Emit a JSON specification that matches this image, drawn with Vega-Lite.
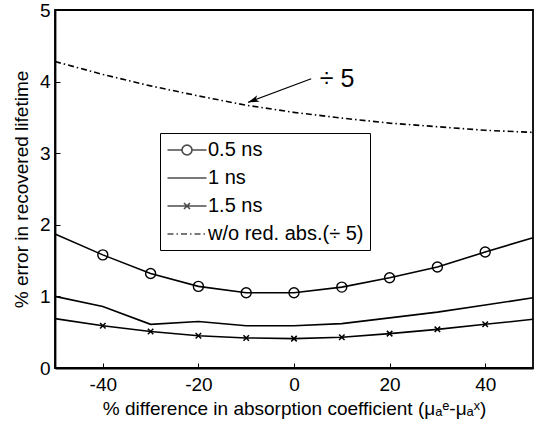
{
  "$schema": "https://vega.github.io/schema/vega-lite/v6.json",
  "width": 478,
  "height": 358,
  "autosize": {"type": "none"},
  "padding": {"left": 55, "top": 10, "right": 6, "bottom": 62},
  "background": "white",
  "config": {
    "font": "Liberation Sans",
    "view": {"stroke": "black", "strokeWidth": 1.8},
    "axis": {
      "domainColor": "black", "domainWidth": 1.8,
      "tickColor": "black", "tickWidth": 1, "tickSize": -5,
      "labelColor": "black", "titleColor": "black",
      "labelFontSize": 19, "titleFontSize": 19, "titleFontWeight": "normal",
      "grid": false
    }
  },
  "datasets": {
    "curves": [
      {"series": "0.5 ns", "x": -50, "err": 1.87},
      {"series": "0.5 ns", "x": -40, "err": 1.58},
      {"series": "0.5 ns", "x": -30, "err": 1.32},
      {"series": "0.5 ns", "x": -20, "err": 1.14},
      {"series": "0.5 ns", "x": -10, "err": 1.05},
      {"series": "0.5 ns", "x": 0, "err": 1.05},
      {"series": "0.5 ns", "x": 10, "err": 1.13},
      {"series": "0.5 ns", "x": 20, "err": 1.26},
      {"series": "0.5 ns", "x": 30, "err": 1.41},
      {"series": "0.5 ns", "x": 40, "err": 1.62},
      {"series": "0.5 ns", "x": 50, "err": 1.82},
      {"series": "1 ns", "x": -50, "err": 1.0},
      {"series": "1 ns", "x": -40, "err": 0.86},
      {"series": "1 ns", "x": -30, "err": 0.61},
      {"series": "1 ns", "x": -20, "err": 0.65},
      {"series": "1 ns", "x": -10, "err": 0.59},
      {"series": "1 ns", "x": 0, "err": 0.59},
      {"series": "1 ns", "x": 10, "err": 0.62},
      {"series": "1 ns", "x": 20, "err": 0.70},
      {"series": "1 ns", "x": 30, "err": 0.78},
      {"series": "1 ns", "x": 40, "err": 0.88},
      {"series": "1 ns", "x": 50, "err": 0.98},
      {"series": "1.5 ns", "x": -50, "err": 0.69},
      {"series": "1.5 ns", "x": -40, "err": 0.59},
      {"series": "1.5 ns", "x": -30, "err": 0.51},
      {"series": "1.5 ns", "x": -20, "err": 0.45},
      {"series": "1.5 ns", "x": -10, "err": 0.42},
      {"series": "1.5 ns", "x": 0, "err": 0.41},
      {"series": "1.5 ns", "x": 10, "err": 0.43},
      {"series": "1.5 ns", "x": 20, "err": 0.48},
      {"series": "1.5 ns", "x": 30, "err": 0.54},
      {"series": "1.5 ns", "x": 40, "err": 0.61},
      {"series": "1.5 ns", "x": 50, "err": 0.68},
      {"series": "w/o red. abs.(÷ 5)", "x": -50, "err": 4.28},
      {"series": "w/o red. abs.(÷ 5)", "x": -40, "err": 4.10},
      {"series": "w/o red. abs.(÷ 5)", "x": -30, "err": 3.94},
      {"series": "w/o red. abs.(÷ 5)", "x": -20, "err": 3.80},
      {"series": "w/o red. abs.(÷ 5)", "x": -10, "err": 3.67},
      {"series": "w/o red. abs.(÷ 5)", "x": 0, "err": 3.57},
      {"series": "w/o red. abs.(÷ 5)", "x": 10, "err": 3.49},
      {"series": "w/o red. abs.(÷ 5)", "x": 20, "err": 3.42},
      {"series": "w/o red. abs.(÷ 5)", "x": 30, "err": 3.37},
      {"series": "w/o red. abs.(÷ 5)", "x": 40, "err": 3.32},
      {"series": "w/o red. abs.(÷ 5)", "x": 50, "err": 3.29}
    ],
    "note": [
      {"label": "÷ 5", "x": 3.6, "err": 4.04, "x_end": -9.6, "err_end": 3.71, "x_text": 5.4}
    ]
  },
  "layer": [
    {
      "data": {"name": "curves"},
      "transform": [{"filter": {"not": {"field": "series", "equal": "w/o red. abs.(÷ 5)"}}}],
      "mark": {"type": "line", "color": "black", "strokeWidth": 1.6},
      "encoding": {
        "x": {
          "field": "x", "type": "quantitative",
          "scale": {"domain": [-50, 50], "nice": false, "zero": false},
          "axis": {"values": [-40, -20, 0, 20, 40], "labelExpr": "'' + datum.value", "title": "% difference in absorption coefficient (μₐᵉ-μₐˣ)", "labelPadding": 12, "titlePadding": 5}
        },
        "y": {
          "field": "err", "type": "quantitative",
          "scale": {"domain": [0, 5], "nice": false},
          "axis": {"values": [0, 1, 2, 3, 4, 5], "labelExpr": "'' + datum.value", "title": "% error in recovered lifetime", "labelPadding": 10, "titlePadding": 8}
        },
        "detail": {"field": "series"}
      }
    },
    {
      "data": {"name": "curves"},
      "transform": [{"filter": {"field": "series", "equal": "w/o red. abs.(÷ 5)"}}],
      "mark": {"type": "line", "color": "black", "strokeWidth": 1.6, "strokeDash": [6, 3, 1.5, 3]},
      "encoding": {
        "x": {"field": "x", "type": "quantitative"},
        "y": {"field": "err", "type": "quantitative"}
      }
    },
    {
      "data": {"name": "curves"},
      "transform": [{"filter": {"and": [{"field": "series", "equal": "0.5 ns"}, {"field": "x", "range": [-40, 40]}]}}],
      "mark": {"type": "point", "shape": "circle", "size": 100, "filled": false, "stroke": "black", "strokeWidth": 1.4, "opacity": 1},
      "encoding": {
        "x": {"field": "x", "type": "quantitative"},
        "y": {"field": "err", "type": "quantitative"}
      }
    },
    {
      "data": {"name": "curves"},
      "transform": [{"filter": {"and": [{"field": "series", "equal": "1.5 ns"}, {"field": "x", "range": [-40, 40]}]}}],
      "mark": {"type": "point", "shape": "M-1,-1L1,1M-1,1L1,-1", "size": 30, "filled": false, "stroke": "black", "strokeWidth": 1.5, "opacity": 1},
      "encoding": {
        "x": {"field": "x", "type": "quantitative"},
        "y": {"field": "err", "type": "quantitative"}
      }
    },
    {
      "data": {"name": "curves"},
      "mark": {"type": "point", "filled": false, "stroke": "black", "strokeOpacity": 0, "strokeWidth": 1.5},
      "encoding": {
        "x": {"field": "x", "type": "quantitative"},
        "y": {"field": "err", "type": "quantitative"},
        "shape": {
          "field": "series", "type": "nominal",
          "scale": {
            "domain": ["0.5 ns", "1 ns", "1.5 ns", "w/o red. abs.(÷ 5)"],
            "range": [
              "M-1.95,0H-0.5L-0.46,0.19L-0.35,0.35L-0.19,0.46L0,0.5L0.19,0.46L0.35,0.35L0.46,0.19L0.5,0L0.46,-0.19L0.35,-0.35L0.19,-0.46L0,-0.5L-0.19,-0.46L-0.35,-0.35L-0.46,-0.19L-0.5,0M0.5,0H1.95",
              "M-1.95,0H1.95",
              "M-1.95,0H1.95M-0.3,-0.3L0.3,0.3M-0.3,0.3L0.3,-0.3",
              "M-1.95,0H-1.35M-1.05,0H-0.9M-0.6,0H0M0.3,0H0.45M0.75,0H1.35M1.65,0H1.8"
            ]
          },
          "legend": {
            "title": null, "orient": "none", "legendX": 105, "legendY": 123,
            "fillColor": "white", "strokeColor": "black", "padding": 6,
            "symbolSize": 400, "symbolOffset": 10, "labelOffset": 10,
            "labelFontSize": 20, "labelColor": "black", "labelLimit": 300,
            "rowPadding": 7, "symbolStrokeWidth": 1.6, "symbolStrokeColor": "black",
            "encode": {
              "symbols": {"update": {"strokeOpacity": {"value": 1}, "opacity": {"value": 1}}},
              "legend": {"update": {"strokeWidth": {"value": 1.8}}}
            }
          }
        }
      }
    },
    {
      "data": {"name": "note"},
      "mark": {"type": "rule", "color": "black", "strokeWidth": 1.3},
      "encoding": {
        "x": {"field": "x", "type": "quantitative"},
        "y": {"field": "err", "type": "quantitative"},
        "x2": {"field": "x_end"},
        "y2": {"field": "err_end"}
      }
    },
    {
      "data": {"name": "note"},
      "mark": {"type": "point", "shape": "M0,0L11.5,-0.58L7.5,-2.8L9.1,-7.1Z", "size": 4, "filled": true, "color": "black", "opacity": 1},
      "encoding": {
        "x": {"field": "x_end", "type": "quantitative"},
        "y": {"field": "err_end", "type": "quantitative"}
      }
    },
    {
      "data": {"name": "note"},
      "mark": {"type": "text", "align": "left", "baseline": "middle", "fontSize": 25, "color": "black"},
      "encoding": {
        "x": {"field": "x_text", "type": "quantitative"},
        "y": {"field": "err", "type": "quantitative"},
        "text": {"field": "label"}
      }
    }
  ]
}
